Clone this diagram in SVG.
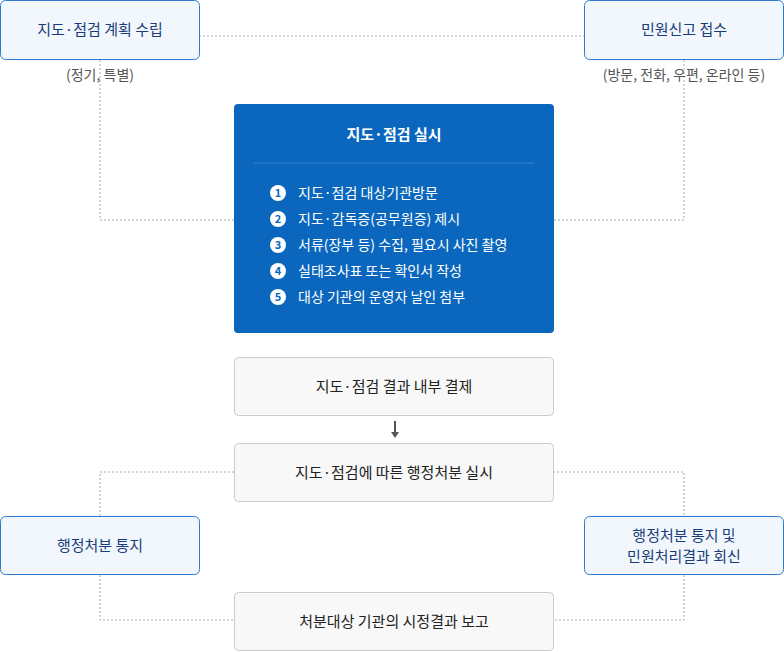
<svg xmlns="http://www.w3.org/2000/svg" width="784" height="652" viewBox="0 0 784 652">
<style>
text{font-family:"Noto Sans CJK KR","Noto Sans",sans-serif;}
.lb{fill:#f1f7fd;stroke:#2f7ccc;stroke-width:1}
.lt{fill:#1a3d7a;font-size:15px;text-anchor:middle}
.gb{fill:#f8f8f8;stroke:#cccccc;stroke-width:1}
.gt{fill:#222;font-size:15px;text-anchor:middle}
.sub{fill:#555;font-size:14px;text-anchor:middle}
.con{fill:none;stroke:#aaa;stroke-width:1;stroke-dasharray:2 2}
.it{fill:#fff;font-size:14px}
.nc{fill:#fff}
.nn{fill:#0b67bd;font-size:11px;font-weight:bold;text-anchor:middle}
</style>
<defs><marker id="ah" markerWidth="8" markerHeight="6" refX="4" refY="5" orient="auto" markerUnits="userSpaceOnUse"><path d="M0,0 L8,0 L4,6 z" fill="#555" transform="rotate(-90 4 3)"/></marker></defs>
<g id="connectors">
<path class="con" d="M199,36 H585"/>
<path class="con" d="M100,60 V220 H234"/>
<path class="con" d="M684,60 V220 H553"/>
<path class="con" d="M234,472 H100 V516"/>
<path class="con" d="M100,575 V620 H234"/>
<path class="con" d="M553,472 H684 V516"/>
<path class="con" d="M684,575 V620 H553"/>
<path d="M395,421 V434" stroke="#555" stroke-width="2"/>
<path d="M391,432 L399,432 L395,438 z" fill="#555"/>
</g>
<g id="plan"><rect class="lb" x="0.5" y="0.5" width="199" height="59" rx="5"/><text class="lt" x="100" y="35">지도·점검 계획 수립</text><text class="sub" x="100" y="80">(정기, 특별)</text></g>
<g id="complaint"><rect class="lb" x="584.5" y="0.5" width="199" height="59" rx="5"/><text class="lt" x="684" y="35">민원신고 접수</text><text class="sub" x="684" y="80">(방문, 전화, 우편, 온라인 등)</text></g>
<g id="inspect">
<rect x="234" y="104" width="320" height="229" rx="4" fill="#0a67bd"/>
<text x="394" y="140" fill="#fff" font-size="15" font-weight="bold" text-anchor="middle">지도·점검 실시</text>
<line x1="254" y1="163" x2="534" y2="163" stroke="#2b85d6" stroke-width="1"/>
<g><circle class="nc" cx="278" cy="193" r="8"/><text class="nn" x="278" y="197">1</text><text class="it" x="298" y="198">지도·점검 대상기관방문</text></g>
<g><circle class="nc" cx="278" cy="219" r="8"/><text class="nn" x="278" y="223">2</text><text class="it" x="298" y="224">지도·감독증(공무원증) 제시</text></g>
<g><circle class="nc" cx="278" cy="245" r="8"/><text class="nn" x="278" y="249">3</text><text class="it" x="298" y="250">서류(장부 등) 수집, 필요시 사진 촬영</text></g>
<g><circle class="nc" cx="278" cy="271" r="8"/><text class="nn" x="278" y="275">4</text><text class="it" x="298" y="276">실태조사표 또는 확인서 작성</text></g>
<g><circle class="nc" cx="278" cy="297" r="8"/><text class="nn" x="278" y="301">5</text><text class="it" x="298" y="302">대상 기관의 운영자 날인 첨부</text></g>
</g>
<g id="result"><rect class="gb" x="234.5" y="357.5" width="319" height="58" rx="4"/><text class="gt" x="394" y="392">지도·점검 결과 내부 결제</text></g>
<g id="action"><rect class="gb" x="234.5" y="443.5" width="319" height="58" rx="4"/><text class="gt" x="394" y="478">지도·점검에 따른 행정처분 실시</text></g>
<g id="notify"><rect class="lb" x="0.5" y="516.5" width="199" height="58" rx="5"/><text class="lt" x="100" y="551">행정처분 통지</text></g>
<g id="reply"><rect class="lb" x="584.5" y="516.5" width="199" height="58" rx="5"/><text class="lt" x="684" y="541">행정처분 통지 및</text><text class="lt" x="684" y="562">민원처리결과 회신</text></g>
<g id="report"><rect class="gb" x="234.5" y="592.5" width="319" height="58" rx="4"/><text class="gt" x="394" y="627">처분대상 기관의 시정결과 보고</text></g>
</svg>
